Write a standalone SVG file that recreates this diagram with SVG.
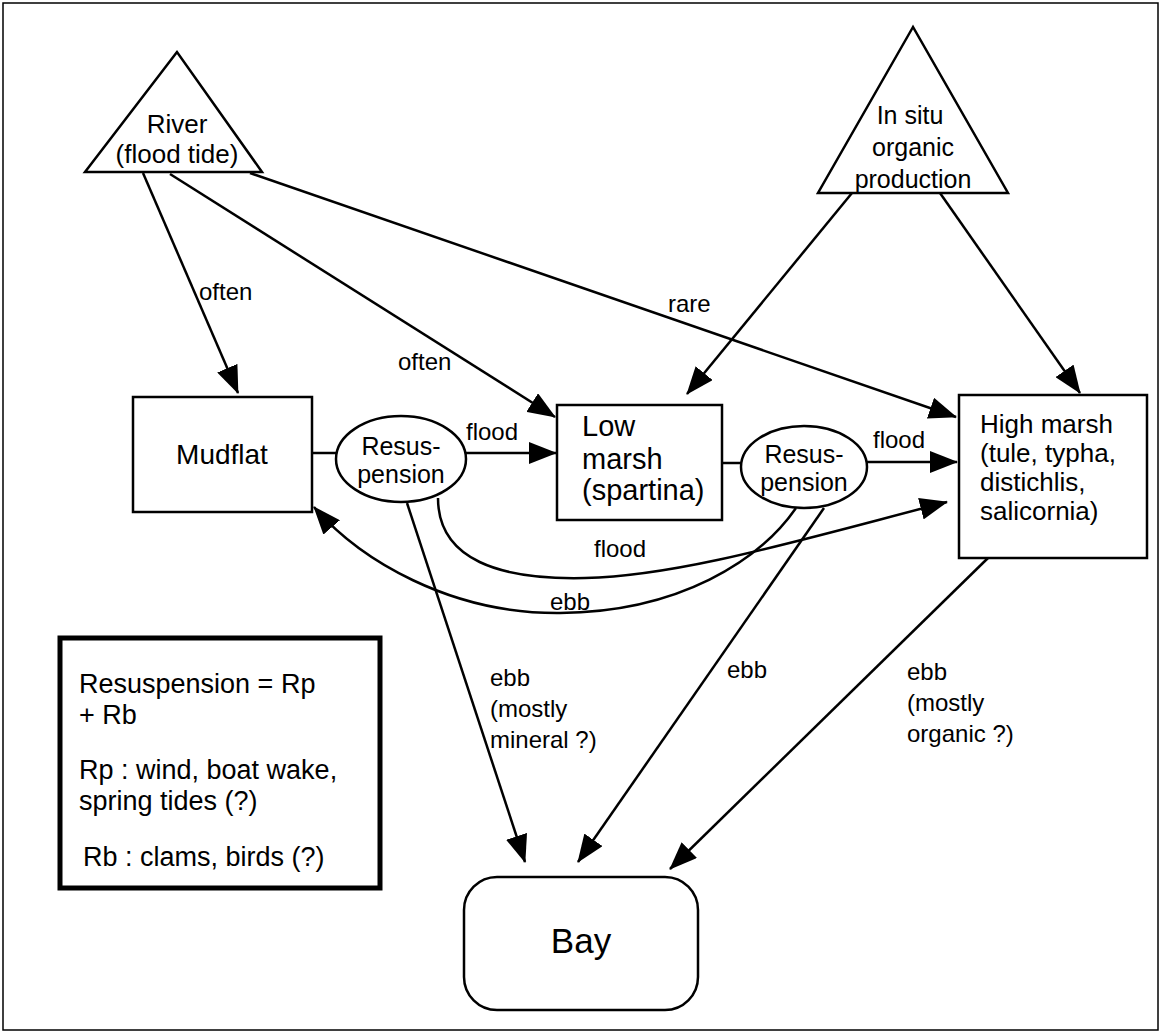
<svg xmlns="http://www.w3.org/2000/svg" width="1161" height="1034" viewBox="0 0 1161 1034">
<defs>
<marker id="ah" markerUnits="userSpaceOnUse" markerWidth="28" markerHeight="22" refX="27" refY="11" orient="auto">
<path d="M0,0 L28,11 L0,22 z" fill="#000"/>
</marker>
<style>
.s{fill:#fff;stroke:#000;stroke-width:2.5}
.t{font-family:"Liberation Sans",Arial,sans-serif;fill:#000}
.c{fill:none;stroke:#000;stroke-width:2.5}
.a{fill:none;stroke:#000;stroke-width:2.5;marker-end:url(#ah)}
</style>
</defs>
<rect x="0" y="0" width="1161" height="1034" fill="#fff"/>
<rect x="3" y="3" width="1155" height="1027" fill="none" stroke="#000" stroke-width="1.5"/>
<g id="connectors">
<path class="a" d="M143,173 L238,393"/>
<path class="a" d="M170,174 L555,417"/>
<path class="a" d="M250,173 L956,417"/>
<path class="a" d="M852,193 L687,394"/>
<path class="a" d="M940,193 L1080,393"/>
<path class="c" d="M312,453 L336,453"/>
<path class="a" d="M466,453 L556,453"/>
<path class="c" d="M722,463 L741,463"/>
<path class="a" d="M867,462 L957,462"/>
<path class="a" d="M438,498 C438,560 500,580 585,578 C680,576 800,540 947,502"/>
<path class="a" d="M796,508 C760,560 680,612 560,613 C450,614 360,560 314,507"/>
<path class="a" d="M407,503 L525,862"/>
<path class="a" d="M824,508 L578,862"/>
<path class="a" d="M988,558 L670,869"/>
<g class="t" font-size="24">
<text x="199" y="300">often</text>
<text x="398" y="370">often</text>
<text x="668" y="312">rare</text>
<text x="466" y="440">flood</text>
<text x="873" y="448">flood</text>
<text x="594" y="557">flood</text>
<text x="550" y="610">ebb</text>
<text x="490" y="686">ebb</text>
<text x="490" y="717">(mostly</text>
<text x="490" y="748">mineral ?)</text>
<text x="727" y="678">ebb</text>
<text x="907" y="680">ebb</text>
<text x="907" y="711">(mostly</text>
<text x="907" y="742">organic ?)</text>
</g>
</g>
<g id="river">
<polygon class="s" points="177,52 85,172 262,172"/>
<text class="t" font-size="26" text-anchor="middle" x="177" y="133">River</text>
<text class="t" font-size="26" text-anchor="middle" x="177" y="163">(flood tide)</text>
</g>
<g id="insitu">
<polygon class="s" points="913,27 818,193 1008,193"/>
<text class="t" font-size="25" text-anchor="middle" x="910" y="124">In situ</text>
<text class="t" font-size="25" text-anchor="middle" x="913" y="156">organic</text>
<text class="t" font-size="25" text-anchor="middle" x="913" y="188">production</text>
</g>
<g id="mudflat">
<rect class="s" x="133" y="397" width="179" height="115"/>
<text class="t" font-size="28" text-anchor="middle" x="222" y="464">Mudflat</text>
</g>
<g id="resus1">
<ellipse class="s" cx="401" cy="459" rx="65" ry="43"/>
<text class="t" font-size="25" text-anchor="middle" x="401" y="455">Resus-</text>
<text class="t" font-size="25" text-anchor="middle" x="401" y="483">pension</text>
</g>
<g id="lowmarsh">
<rect class="s" x="557" y="405" width="165" height="115"/>
<text class="t" font-size="29" x="582" y="436">Low</text>
<text class="t" font-size="29" x="582" y="469">marsh</text>
<text class="t" font-size="29" x="582" y="500">(spartina)</text>
</g>
<g id="resus2">
<ellipse class="s" cx="804" cy="467" rx="63" ry="41"/>
<text class="t" font-size="25" text-anchor="middle" x="804" y="463">Resus-</text>
<text class="t" font-size="25" text-anchor="middle" x="804" y="491">pension</text>
</g>
<g id="highmarsh">
<rect class="s" x="959" y="395" width="188" height="163"/>
<text class="t" font-size="26" x="980" y="433">High marsh</text>
<text class="t" font-size="26" x="980" y="462">(tule, typha,</text>
<text class="t" font-size="26" x="980" y="491">distichlis,</text>
<text class="t" font-size="26" x="980" y="520">salicornia)</text>
</g>
<g id="bay">
<rect class="s" x="464" y="877" width="234" height="133" rx="33"/>
<text class="t" font-size="35" text-anchor="middle" x="581" y="953">Bay</text>
</g>
<g id="legend">
<rect x="60" y="638" width="320" height="250" fill="#fff" stroke="#000" stroke-width="5"/>
<g class="t" font-size="27">
<text x="79" y="693">Resuspension = Rp</text>
<text x="79" y="724">+ Rb</text>
<text x="79" y="779">Rp : wind, boat wake,</text>
<text x="79" y="810">spring tides (?)</text>
<text x="83" y="866">Rb : clams, birds (?)</text>
</g>
</g>
</svg>
